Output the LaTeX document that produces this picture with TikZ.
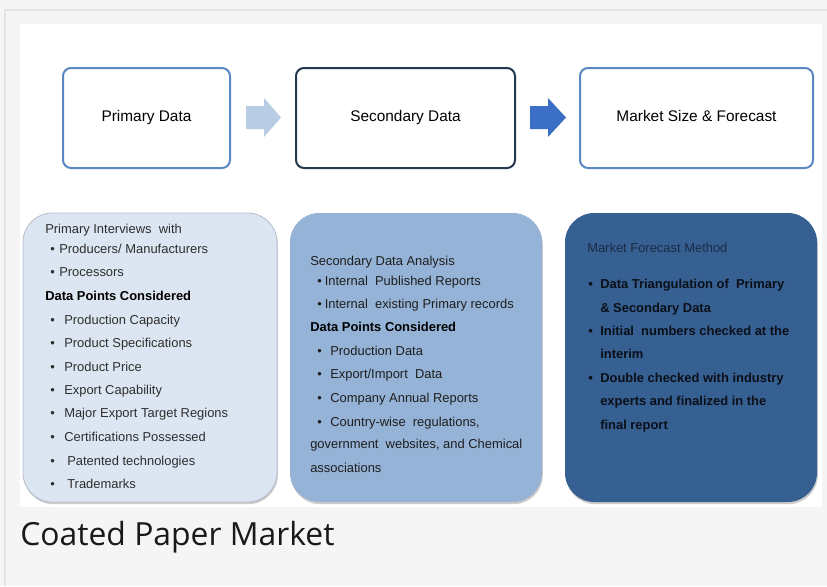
\documentclass[tikz,border=0pt]{standalone}
\usepackage{fontspec}
\setmainfont{Liberation Sans}
\newfontfamily\capfont{Open Sans}
\usetikzlibrary{shadows}
\newdimen\pxu \pxu=0.75pt
\definecolor{bggray}{HTML}{F5F5F5}
\definecolor{edgegray}{HTML}{E4E4E4}
\definecolor{boxblue}{HTML}{5B87C2}
\definecolor{boxdark}{HTML}{26384F}
\definecolor{arrlight}{HTML}{B8CCE4}
\definecolor{arrdark}{HTML}{3A6FC5}
\definecolor{fillA}{HTML}{DCE6F2}
\definecolor{fillB}{HTML}{95B3D7}
\definecolor{fillC}{HTML}{366092}
\definecolor{lineA}{HTML}{B4BCC8}
\definecolor{txtA}{HTML}{2E2E2E}
\definecolor{txtB}{HTML}{1E1E1E}
\definecolor{txtC}{HTML}{1B2B44}
\definecolor{txtCb}{HTML}{0A0F18}
\newcommand{\bl}[2]{\makebox[#1\pxu][l]{\textbullet}#2}
\tikzset{
  topbox/.style={draw=boxblue, line width=1.5pt, rounded corners=6pt, fill=white,
    minimum height=100\pxu, inner sep=0pt, text height=8.3pt, text depth=2.4pt,
    font=\fontsize{11.55}{13}\selectfont},
  lowbox/.style={rounded corners=22pt, inner sep=0pt, minimum height=289\pxu,
    minimum width=252\pxu,
    drop shadow={shadow xshift=0.6pt, shadow yshift=-1.6pt, fill=black!45, opacity=0.45}},
  bodytxt/.style={anchor=base west, inner sep=0pt, font=\fontsize{9.7}{11}\selectfont},
  tA/.style={bodytxt, text=txtA},
  tB/.style={bodytxt, text=txtB},
  tC/.style={bodytxt, text=txtC},
  tCb/.style={bodytxt, text=txtCb, font=\fontsize{9.7}{11}\selectfont\bfseries},
}
\begin{document}
\begin{tikzpicture}[x=0.75pt, y=-0.75pt]
\useasboundingbox (0,0) rectangle (827,586);
\fill[bggray] (0,0) rectangle (827,586);
\draw[edgegray, line width=1.5pt] (5,586) -- (5,10) -- (827,10);
\fill[white] (20,24) rectangle (822,507);

% top boxes
\node[topbox, minimum width=167\pxu] (prim) at (146.5,118) {Primary Data};
\node[topbox, draw=boxdark, minimum width=219\pxu] (sec) at (405.5,118) {Secondary Data};
\node[topbox, minimum width=233\pxu] (mkt) at (696.5,118) {Market Size \& Forecast};

% block arrows
\fill[arrlight] (246,106) -- (264,106) -- (264,98) -- (281,117.5) -- (264,137) -- (264,129) -- (246,129) -- cycle;
\fill[arrdark] (530,106) -- (548,106) -- (548,98) -- (566,117.5) -- (548,137) -- (548,129) -- (530,129) -- cycle;

% lower boxes
\node[lowbox, fill=fillA, draw=lineA, line width=0.6pt, minimum width=254\pxu] (boxA) at (150,357.5) {};
\node[lowbox, fill=fillB] (boxB) at (416,357.5) {};
\node[lowbox, fill=fillC] (boxC) at (691,357.5) {};

% box A text
\node[tA] (a1) at (45,233.6) {Primary Interviews\ \ with};
\node[tA] (a2) at (50,253.6) {\bl{9}{Producers/ Manufacturers}};
\node[tA] (a3) at (50,276.6) {\bl{9}{Processors}};
\node[tA, font=\fontsize{9.7}{11}\selectfont\bfseries, text=black] (a4) at (45,300.6) {Data Points Considered};
\node[tA] (a5) at (50,324.6) {\bl{14}{Production Capacity}};
\node[tA] (a6) at (50,347.6) {\bl{14}{Product Specifications}};
\node[tA] (a7) at (50,371.6) {\bl{14}{Product Price}};
\node[tA] (a8) at (50,394.6) {\bl{14}{Export Capability}};
\node[tA] (a9) at (50,417.6) {\bl{14}{Major Export Target Regions}};
\node[tA] (a10) at (50,441.6) {\bl{14}{Certifications Possessed}};
\node[tA] (a11) at (50,465.6) {\bl{17}{Patented technologies}};
\node[tA] (a12) at (50,488.6) {\bl{17}{Trademarks}};

% box B text
\node[tB] (b1) at (310,265.6) {Secondary Data Analysis};
\node[tB] (b2) at (317,285.6) {\bl{7.5}{Internal\ \ Published Reports}};
\node[tB] (b3) at (317,308.6) {\bl{7.5}{Internal\ \ existing Primary records}};
\node[tB, font=\fontsize{9.7}{11}\selectfont\bfseries, text=black] (b4) at (310,331.6) {Data Points Considered};
\node[tB] (b5) at (317,355.6) {\bl{13}{Production Data}};
\node[tB] (b6) at (317,378.6) {\bl{13}{Export/Import\ \ Data}};
\node[tB] (b7) at (317,402.6) {\bl{13}{Company Annual Reports}};
\node[tB] (b8) at (317,426.6) {\bl{13}{Country-wise\ \ regulations,}};
\node[tB] (b9) at (310,448.6) {government\ \ websites, and Chemical};
\node[tB] (b10) at (310,472.6) {associations};

% box C text
\node[tC] (c1) at (587,252.6) {Market Forecast Method};
\node[tCb] (c2) at (588,288.6) {\bl{12}{Data Triangulation of\ \ Primary}};
\node[tCb] (c3) at (600,312.6) {\& Secondary Data};
\node[tCb] (c4) at (588,335.6) {\bl{12}{Initial\ \ numbers checked at the}};
\node[tCb] (c5) at (600,358.6) {interim};
\node[tCb] (c6) at (588,382.6) {\bl{12}{Double checked with industry}};
\node[tCb] (c7) at (600,405.6) {experts and finalized in the};
\node[tCb] (c8) at (600,429.6) {final report};

% caption
\node[anchor=base west, inner sep=0pt, font=\capfont\fontsize{23.9}{28}\selectfont, text=black!90] (cap) at (20,545) {Coated Paper Market};
\end{tikzpicture}
\end{document}
